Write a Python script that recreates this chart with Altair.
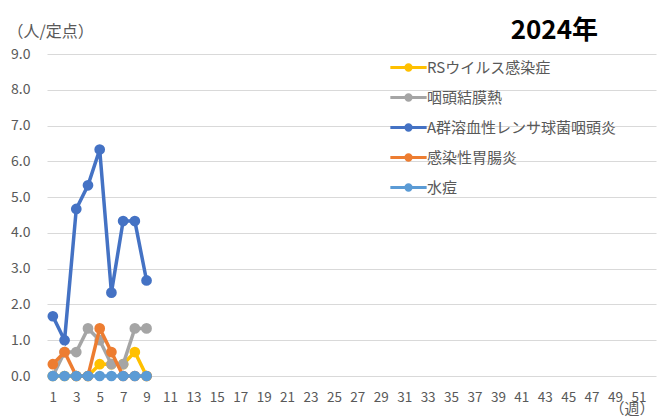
import altair as alt
import pandas as pd

weeks = [1, 2, 3, 4, 5, 6, 7, 8, 9]
series_names = ["RSウイルス感染症", "咽頭結膜熱", "A群溶血性レンサ球菌咽頭炎", "感染性胃腸炎", "水痘"]
series_colors = ["#FFC000", "#A5A5A5", "#4472C4", "#ED7D31", "#5B9BD5"]
rs = [0, 0, 0, 0, 0.33, 0.33, 0.33, 0.67, 0]
pcf = [0, 0.67, 0.67, 1.33, 1.0, 0.33, 0.33, 1.33, 1.33]
gas = [1.67, 1.0, 4.67, 5.33, 6.33, 2.33, 4.33, 4.33, 2.67]
gastro = [0.33, 0.67, 0, 0, 1.33, 0.67, 0, 0, 0]
varicella = [0, 0, 0, 0, 0, 0, 0, 0, 0]
x_ticks = list(range(1, 52, 2))
y_ticks = [0, 1, 2, 3, 4, 5, 6, 7, 8, 9]

values = [rs, pcf, gas, gastro, varicella]
rows = []
for name, vals in zip(series_names, values):
    for w, v in zip(weeks, vals):
        rows.append({"week": w, "value": v, "series": name})
df = pd.DataFrame(rows)

FONT = "Noto Sans CJK JP"
GREY = "#595959"

symbol_path = ("M-1.65,0L1.65,0M-0.24,0A0.24,0.24,0,1,0,0.24,0"
               "A0.24,0.24,0,1,0,-0.24,0Z")

color = alt.Color(
    "series:N",
    scale=alt.Scale(domain=series_names, range=series_colors),
    legend=alt.Legend(
        title=None,
        orient="none",
        legendX=349,
        legendY=1,
        symbolType=symbol_path,
        symbolSize=484,
        symbolStrokeWidth=3,
        labelOffset=6,
        rowPadding=8,
        padding=0,
        labelFont=FONT,
        labelFontSize=15,
        labelColor=GREY,
        labelLimit=400,
    ),
)

x = alt.X(
    "week:Q",
    scale=alt.Scale(domain=[0.5, 52.5], nice=False, zero=False),
    axis=alt.Axis(
        values=x_ticks, grid=False, domain=False, ticks=False,
        labelPadding=14, labelFont=FONT, labelFontSize=13.5, labelColor=GREY,
        title="（週）", titleX=562, titleY=32, titleAlign="left",
        titleBaseline="middle", titleFont=FONT, titleFontSize=15,
        titleFontWeight="normal", titleColor=GREY,
    ),
)
y = alt.Y(
    "value:Q",
    scale=alt.Scale(domain=[0, 9], nice=False),
    axis=alt.Axis(
        values=y_ticks, format=".1f", grid=True, gridColor="#D9D9D9",
        domain=False, ticks=False, labelPadding=17,
        labelFont=FONT, labelFontSize=14, labelColor=GREY,
        title="（人/定点）", titleAngle=0, titleX=-40, titleY=-23,
        titleAlign="left", titleBaseline="middle", titleFont=FONT,
        titleFontSize=16, titleFontWeight="normal", titleColor=GREY,
    ),
)

layers = []
for name in series_names:
    layers.append(
        alt.Chart(df)
        .transform_filter(alt.datum.series == name)
        .mark_line(strokeWidth=3.5, point=alt.OverlayMarkDef(filled=True, size=115, opacity=1))
        .encode(x=x, y=y, color=color)
    )

chart = (
    alt.layer(*layers)
    .properties(
        width=609,
        height=322,
        autosize="none",
        padding={"left": 39, "top": 46, "right": 3, "bottom": 48},
        title=alt.Title(
            "2024年", anchor="end", dx=-58, dy=42, offset=0, baseline="alphabetic",
            font=FONT, fontSize=26, fontWeight="bold", color="#000000",
        ),
        background="white",
    )
    .configure_view(stroke=None)
)

chart.save("out.html", embed_options={"renderer": "svg", "actions": False})
